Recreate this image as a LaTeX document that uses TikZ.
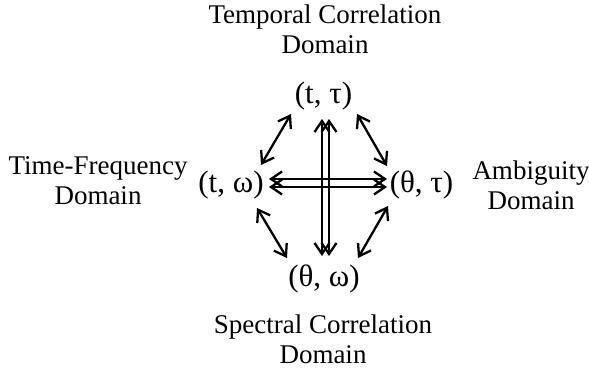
\documentclass[tikz,border=0pt]{standalone}
\usepackage{fontspec}
\setmainfont{Liberation Serif}
\usetikzlibrary{arrows.meta}

\begin{document}
\begin{tikzpicture}[
  x=1pt, y=-1pt,
  domainname/.style = {align=center, inner sep=0pt, font=\fontsize{27}{30}\selectfont},
  pair/.style = {inner sep=0pt, font=\fontsize{31}{34}\selectfont},
  link/.style = {{Straight Barb[length=11pt, width=15pt]}-{Straight Barb[length=11pt, width=15pt]},
    line width=2.3pt}
]
\useasboundingbox (0,0) rectangle (589,369);

% the four pairs of variables
\node[pair] (tt) at (323.5,96) {(t, τ)};
\node[pair] (tw) at (231,185) {(t, ω)};
\node[pair] (ht) at (421.5,185) {(θ, τ)};
\node[pair] (hw) at (324,279) {(θ, ω)};

% domain names
\node[domainname] (temporal) at (325,29) {Temporal Correlation \\ Domain};
\node[domainname] (timefreq) at (98,181) {Time-Frequency \\ Domain};
\node[domainname] (ambig) at (531,185) {Ambiguity \\ Domain};
\node[domainname] (spectral) at (323,339) {Spectral Correlation \\ Domain};

% double links through the middle
\draw[link] ([shift={(-1.5,23)}]tt.center) -- ([shift={(-2,-23)}]hw.center);
\draw[link] ([shift={(5.5,23)}]tt.center) -- ([shift={(5,-23)}]hw.center);
\draw[link] ([shift={(38,-6)}]tw.center) -- ([shift={(-34.5,-6)}]ht.center);
\draw[link] ([shift={(38,2)}]tw.center) -- ([shift={(-34.5,2)}]ht.center);

% links round the outside
\draw[link] ([shift={(-32.5,18)}]tt.center) -- ([shift={(30,-20)}]tw.center);
\draw[link] ([shift={(33.5,18)}]tt.center) -- ([shift={(-34.5,-19)}]ht.center);
\draw[link] ([shift={(26,23)}]tw.center) -- ([shift={(-37,-21)}]hw.center);
\draw[link] ([shift={(-33.5,21)}]ht.center) -- ([shift={(34,-21)}]hw.center);
\end{tikzpicture}
\end{document}
